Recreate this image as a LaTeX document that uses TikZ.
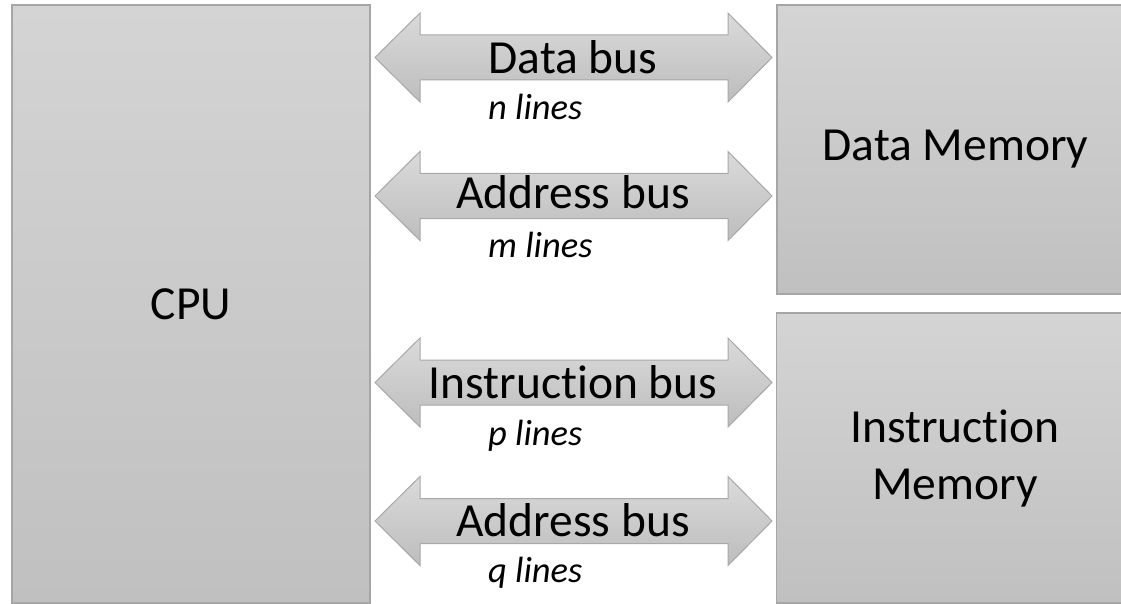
\documentclass[tikz,border=0pt]{standalone}
\usepackage{fontspec}
\setmainfont[Ligatures=NoCommon]{Carlito}
\definecolor{boxtop}{HTML}{D4D4D4}
\definecolor{boxbot}{HTML}{C0C0C0}
\definecolor{boxline}{HTML}{A6A6A6}
\definecolor{arrtop}{HTML}{DADADA}
\definecolor{arrbot}{HTML}{BDBDBD}
\definecolor{arrline}{HTML}{A8A8A8}
\newcommand\busarrow[1]{%
  \path[busshape] (375,#1) -- (420,#1-44.5) -- (420,#1-22.5) -- (728,#1-22.5)
    -- (728,#1-44.5) -- (772,#1) -- (728,#1+44.5) -- (728,#1+22.5)
    -- (420,#1+22.5) -- (420,#1+44.5) -- cycle;}
\begin{document}
\begin{tikzpicture}[x=1pt,y=-1pt,
  box/.style={draw=boxline, line width=1.2pt, top color=boxtop, bottom color=boxbot,
    rectangle, inner sep=0pt, font=\fontsize{47.5}{57}\selectfont, align=center, text=black},
  busshape/.style={draw=arrline, line width=1pt, top color=arrtop, bottom color=arrbot},
  buslabel/.style={font=\fontsize{47.5}{57}\selectfont, anchor=base, inner sep=0pt},
  lineslabel/.style={font=\itshape\fontsize{36.5}{42}\selectfont, anchor=base west, inner sep=0pt}]
\useasboundingbox (0,0) rectangle (1121,604);
\fill[white] (0,0) rectangle (1121,604);
% boxes
\node[box, minimum width=358pt, minimum height=598pt] (cpu) at (191,304) {CPU};
\node[box, minimum width=357pt, minimum height=289pt] (dmem) at (955.5,149.5) {Data Memory};
\node[box, minimum width=357pt, minimum height=290pt] (imem) at (955,458) {Instruction\\Memory};
% bus arrows
\busarrow{57.5}
\busarrow{196}
\busarrow{382.5}
\busarrow{521}
% bus labels
\node[buslabel] (dbus) at (573,74) {Data bus};
\node[buslabel] (abus1) at (573,208) {Address bus};
\node[buslabel] (ibus) at (573,398) {Instruction bus};
\node[buslabel] (abus2) at (573,536) {Address bus};
% line counts
\node[lineslabel] (nl) at (488,120) {n lines};
\node[lineslabel] (ml) at (488,257) {m lines};
\node[lineslabel] (pl) at (488,445) {p lines};
\node[lineslabel] (ql) at (488,582) {q lines};
\end{tikzpicture}
\end{document}
